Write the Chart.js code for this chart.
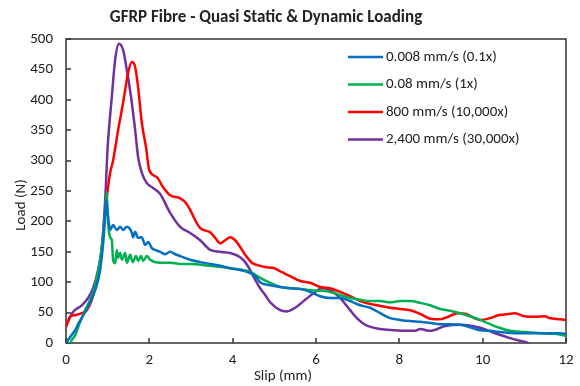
<!DOCTYPE html>
<html>
<head>
<meta charset="utf-8">
<script src="https://cdn.jsdelivr.net/npm/chart.js@4"></script>
<style>
  html, body { margin: 0; padding: 0; background: #fff; }
</style>
</head>
<body>
<canvas id="chart" width="580" height="386"></canvas>
<script>
// GFRP fibre pull-out: load vs slip at four loading rates
const FONT = 'Carlito, Calibri, Lato, sans-serif';

const seriesNames = ['0.008 mm/s (0.1x)', '0.08 mm/s (1x)', '800 mm/s (10,000x)', '2,400 mm/s (30,000x)'];
const seriesColors = ['#0070C0', '#00B050', '#FF0000', '#7030A0'];

const xTicks = [0, 2, 4, 6, 8, 10, 12];
const yTicks = [0, 50, 100, 150, 200, 250, 300, 350, 400, 450, 500];

// 0.008 mm/s
const blueSlip = [0, 0.1, 0.22, 0.29, 0.46, 0.58, 0.7, 0.82, 0.9, 0.97, 1.0, 1.06, 1.13, 1.22, 1.3, 1.37, 1.46, 1.54, 1.58, 1.61, 1.66, 1.73, 1.82, 1.9, 1.97, 2.06, 2.14, 2.26, 2.38, 2.5, 2.62, 2.74, 2.98, 3.22, 3.46, 3.7, 3.94, 4.18, 4.42, 4.54, 4.66, 4.9, 5.14, 5.38, 5.62, 5.86, 6.1, 6.34, 6.58, 6.82, 7.06, 7.3, 7.54, 7.78, 8.02, 8.26, 8.5, 8.98, 9.46, 9.7, 9.94, 10.18, 10.4, 10.9, 11.38, 11.86, 12];
const blueLoad = [0, 10, 21, 31, 51, 67, 87, 120, 170, 235, 214, 186, 194, 186, 191, 186, 191, 187, 181, 174, 183, 173, 174, 161, 166, 156, 153, 150, 146, 150, 146, 143, 137, 133, 130, 127, 123, 120, 115, 110, 100, 95, 92, 90, 89, 84, 77, 74, 74, 69, 62, 58, 49, 41, 38, 36, 35, 31, 30, 26, 21, 20, 18, 16, 16, 16, 15];

// 0.08 mm/s
const greenSlip = [0, 0.1, 0.14, 0.22, 0.34, 0.46, 0.58, 0.7, 0.82, 0.89, 0.95, 0.98, 1.0, 1.06, 1.1, 1.13, 1.18, 1.22, 1.25, 1.3, 1.34, 1.42, 1.46, 1.54, 1.6, 1.68, 1.73, 1.8, 1.85, 1.94, 2.02, 2.26, 2.5, 2.74, 2.98, 3.46, 3.94, 4.42, 4.66, 4.9, 5.14, 5.38, 5.62, 5.86, 6.1, 6.34, 6.58, 6.82, 7.06, 7.3, 7.54, 7.78, 8.02, 8.26, 8.5, 8.74, 8.98, 9.22, 9.46, 9.7, 9.94, 10.18, 10.4, 10.66, 11.0, 11.38, 11.74, 12];
const greenLoad = [0, 0, 5, 13, 35, 54, 71, 95, 137, 178, 225, 248, 207, 174, 169, 137, 131, 153, 140, 148, 137, 148, 132, 145, 133, 143, 135, 143, 135, 143, 137, 132, 132, 130, 130, 127, 123, 117, 107, 99, 92, 90, 89, 87, 86, 84, 79, 74, 71, 69, 69, 67, 69, 69, 66, 62, 56, 53, 49, 44, 38, 31, 25, 20, 18, 16, 15, 12];

// 800 mm/s
const redSlip = [0, 0.1, 0.22, 0.38, 0.5, 0.62, 0.74, 0.82, 0.89, 0.94, 1.0, 1.06, 1.13, 1.25, 1.37, 1.49, 1.58, 1.66, 1.73, 1.82, 1.92, 2.0, 2.18, 2.33, 2.5, 2.74, 2.86, 2.98, 3.1, 3.22, 3.46, 3.58, 3.7, 3.82, 3.94, 4.06, 4.18, 4.3, 4.46, 4.6, 4.78, 5.0, 5.14, 5.38, 5.62, 5.86, 6.1, 6.34, 6.58, 6.82, 7.06, 7.3, 7.54, 7.78, 8.02, 8.26, 8.5, 8.74, 8.98, 9.2, 9.4, 9.58, 9.8, 9.94, 10.18, 10.4, 10.66, 10.78, 11.0, 11.26, 11.5, 11.6, 11.86, 12];
const redLoad = [26, 43, 46, 49, 54, 71, 104, 130, 174, 215, 252, 280, 300, 350, 395, 444, 462, 454, 421, 362, 322, 284, 273, 256, 243, 238, 232, 219, 202, 189, 182, 173, 164, 169, 174, 169, 158, 145, 132, 128, 125, 123, 118, 110, 102, 99, 92, 90, 84, 77, 69, 64, 61, 58, 56, 54, 48, 40, 39, 44, 49, 48, 41, 38, 41, 46, 48, 49, 44, 43, 44, 41, 39, 38];

// 2,400 mm/s
const purpleSlip = [0, 0.17, 0.38, 0.53, 0.65, 0.77, 0.86, 0.94, 1.0, 1.1, 1.18, 1.27, 1.37, 1.46, 1.56, 1.66, 1.73, 1.82, 1.94, 2.09, 2.26, 2.5, 2.74, 2.98, 3.22, 3.46, 3.7, 3.94, 4.18, 4.3, 4.42, 4.54, 4.66, 4.78, 4.9, 5.14, 5.3, 5.5, 5.74, 5.98, 6.14, 6.34, 6.58, 6.82, 6.98, 7.18, 7.54, 7.9, 8.14, 8.38, 8.5, 8.74, 9.1, 9.46, 9.94, 10.3, 10.66, 11.0, 11.1];
const purpleLoad = [30, 51, 62, 74, 90, 120, 158, 235, 322, 405, 466, 492, 482, 449, 405, 350, 306, 280, 263, 255, 245, 214, 191, 181, 169, 153, 150, 148, 141, 133, 120, 104, 90, 79, 67, 54, 52, 58, 71, 84, 90, 87, 74, 54, 41, 30, 23, 21, 20, 20, 23, 20, 28, 30, 25, 16, 8, 2, 0];

const slips = [blueSlip, greenSlip, redSlip, purpleSlip];
const loads = [blueLoad, greenLoad, redLoad, purpleLoad];

function toPoints(xs, ys) {
  return xs.map((x, i) => ({ x, y: ys[i] }));
}

// frame box + inward tick marks
const frame = {
  id: 'frame',
  beforeDatasetsDraw(chart) {
    const { ctx, chartArea: a, scales: { x, y } } = chart;
    ctx.save();
    ctx.strokeStyle = '#333';
    ctx.lineWidth = 1.5;
    ctx.strokeRect(a.left, a.top, a.right - a.left, a.bottom - a.top);
    ctx.beginPath();
    xTicks.forEach(v => {
      const px = Math.round(x.getPixelForValue(v));
      ctx.moveTo(px, a.bottom);
      ctx.lineTo(px, a.bottom - 5);
    });
    yTicks.forEach(v => {
      const py = Math.round(y.getPixelForValue(v));
      ctx.moveTo(a.left, py);
      ctx.lineTo(a.left + 5, py);
    });
    ctx.stroke();
    ctx.restore();
  }
};

// titles and legend
const labels = {
  id: 'labels',
  afterDraw(chart) {
    const { ctx, chartArea: a } = chart;
    ctx.save();
    ctx.fillStyle = '#222';
    ctx.textAlign = 'center';
    ctx.textBaseline = 'middle';
    ctx.font = 'bold 17px ' + FONT;
    ctx.fillText('GFRP Fibre - Quasi Static & Dynamic Loading', 266, 18);

    ctx.font = '15px ' + FONT;
    ctx.fillText('Slip (mm)', 283, 376);
    ctx.save();
    ctx.translate(21, 205);
    ctx.rotate(-Math.PI / 2);
    ctx.fillText('Load (N)', 0, 0);
    ctx.restore();

    // legend
    ctx.textAlign = 'left';
    ctx.font = '15px ' + FONT;
    seriesNames.forEach((name, i) => {
      const ry = a.top + 18 + i * 27.5;
      ctx.strokeStyle = seriesColors[i];
      ctx.lineWidth = 2.5;
      ctx.beginPath();
      ctx.moveTo(348, ry);
      ctx.lineTo(383, ry);
      ctx.stroke();
      ctx.fillStyle = '#222';
      ctx.fillText(name, 386, ry);
    });
    ctx.restore();
  }
};

new Chart(document.getElementById('chart'), {
  type: 'line',
  data: {
    datasets: seriesNames.map((name, i) => ({
      label: name,
      data: toPoints(slips[i], loads[i]),
      borderColor: seriesColors[i],
      backgroundColor: seriesColors[i],
      borderWidth: 2.5,
      pointRadius: 0,
      cubicInterpolationMode: 'monotone',
      fill: false
    }))
  },
  options: {
    responsive: false,
    animation: false,
    layout: { padding: { top: 39, right: 14, left: 0, bottom: 0 } },
    plugins: {
      legend: { display: false },
      title: { display: false },
      tooltip: { enabled: false }
    },
    scales: {
      x: {
        type: 'linear',
        min: 0,
        max: 12,
        afterBuildTicks: s => { s.ticks = xTicks.map(v => ({ value: v })); },
        afterFit: s => { s.height = 43; },
        grid: { display: false },
        border: { display: false },
        ticks: { color: '#222', font: { family: FONT, size: 15 }, padding: 0, maxRotation: 0 }
      },
      y: {
        min: 0,
        max: 500,
        afterBuildTicks: s => { s.ticks = yTicks.map(v => ({ value: v })); },
        afterFit: s => { s.width = 66; },
        grid: { display: false },
        border: { display: false },
        ticks: { color: '#222', font: { family: FONT, size: 15 }, padding: 5 }
      }
    }
  },
  plugins: [frame, labels]
});
</script>
</body>
</html>
